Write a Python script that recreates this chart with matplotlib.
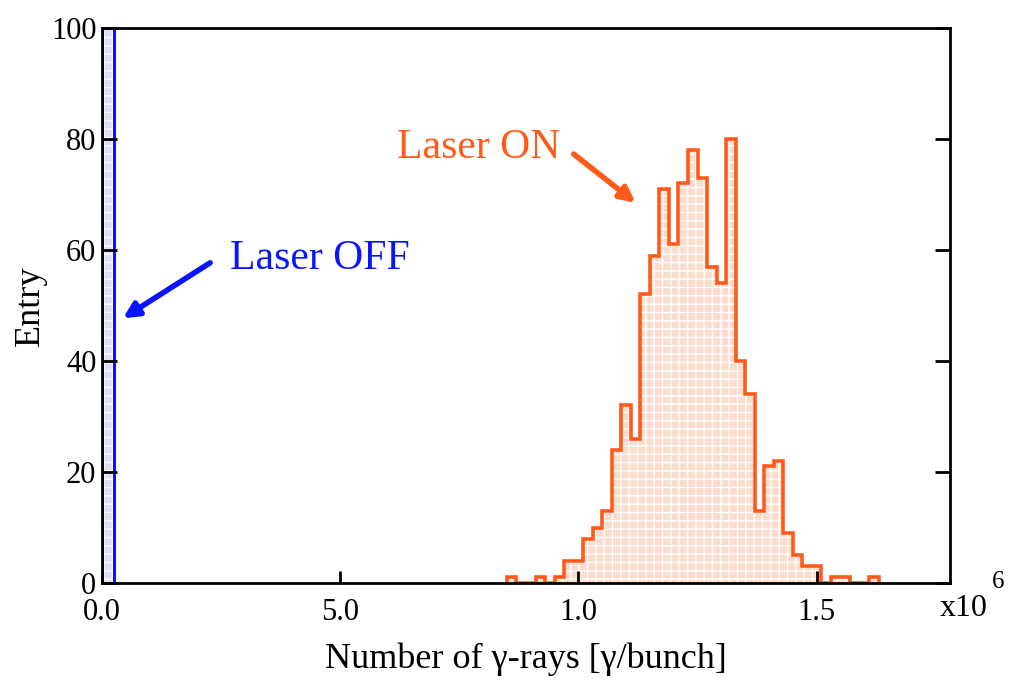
import matplotlib
matplotlib.use("Agg")
import matplotlib.pyplot as plt
import numpy as np

plt.rcParams['font.family'] = ['Liberation Serif', 'DejaVu Serif']
plt.rcParams['hatch.linewidth'] = 1.0

# histogram "Laser ON": bins of 0.02e6 from 0.85e6 to 1.63e6
on_edges = np.arange(0.85e6, 1.6301e6, 0.02e6)
on_counts = [1, 0, 0, 1, 0, 1, 4, 4, 8, 10, 13, 24, 32, 26, 52, 59, 71, 61, 72, 78,
             73, 57, 54, 80, 40, 34, 13, 21, 22, 9, 5, 3, 3, 0, 1, 1, 0, 0, 1]

# "Laser OFF": everything in the first bin
off_edges = [0.0, 0.025e6]
off_counts = [1000]

x_ticks = [0.0, 0.5e6, 1.0e6, 1.5e6]
x_ticklabels = ['0.0', '5.0', '1.0', '1.5']
y_ticks = [0, 20, 40, 60, 80, 100]

orange = '#ff5a1a'
blue = '#0a14ff'

fig = plt.figure(figsize=(10.15, 6.8), dpi=100)
ax = fig.add_axes([0.1005, 0.1426, 0.8355, 0.8162])

# filled areas with a white grid
ax.stairs(on_counts, on_edges, baseline=0, fill=True, facecolor='#fcdccd', edgecolor='none')
ax.stairs(on_counts, on_edges, baseline=0, fill=True, facecolor='none', edgecolor='white',
          hatch='++', linewidth=0)
ax.stairs(on_counts, on_edges, baseline=0, fill=False, color=orange, linewidth=2.6)

ax.stairs(off_counts, off_edges, baseline=0, fill=True, facecolor='#dcdff4', edgecolor='none')
ax.stairs(off_counts, off_edges, baseline=0, fill=True, facecolor='none', edgecolor='white',
          hatch='++', linewidth=0)
ax.stairs(off_counts, off_edges, baseline=0, fill=False, color=blue, linewidth=2.2)

ax.set_xlim(0, 1.78e6)
ax.set_ylim(0, 100)
ax.set_xticks(x_ticks)
ax.set_xticklabels(x_ticklabels)
ax.set_yticks(y_ticks)

ax.tick_params(axis='both', direction='in', labelsize=22, width=2, colors='black')
ax.tick_params(axis='y', length=11, right=True, pad=4)
ax.tick_params(axis='x', length=9, pad=11)
for s in ax.spines.values():
    s.set_linewidth(2)

ax.set_xlabel('Number of γ-rays [γ/bunch]', fontsize=26, labelpad=11)
ax.set_ylabel('Entry', fontsize=26, labelpad=3)

# annotations
ax.annotate('', xy=(1.12e6, 68.5), xytext=(0.99e6, 77.3),
            arrowprops=dict(arrowstyle='-|>,head_length=0.9,head_width=0.45',
                            color=orange, lw=4, shrinkA=0, shrinkB=0))
ax.text(0.62e6, 76.6, 'Laser ON', color=orange, fontsize=30, ha='left', va='baseline')

ax.annotate('', xy=(0.044e6, 47.7), xytext=(0.227e6, 57.7),
            arrowprops=dict(arrowstyle='-|>,head_length=0.9,head_width=0.45',
                            color=blue, lw=4, shrinkA=0, shrinkB=0))
ax.text(0.269e6, 56.6, 'Laser OFF', color=blue, fontsize=30, ha='left', va='baseline')

fig.text(940 / 1015, 1 - 616 / 680, 'x10', fontsize=23, ha='left', va='baseline')
fig.text(992 / 1015, 1 - 588 / 680, '6', fontsize=18, ha='left', va='baseline')

fig.savefig('out.png', dpi=100)
